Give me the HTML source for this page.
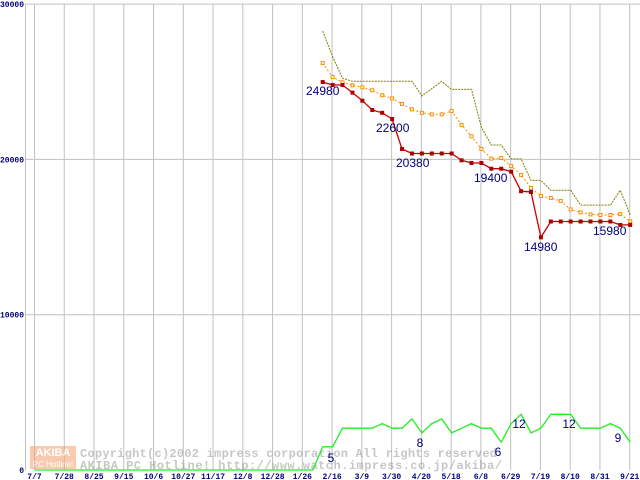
<!DOCTYPE html>
<html><head><meta charset="utf-8"><style>
html,body{margin:0;padding:0;background:#fff;}
svg{display:block;font-family:"Liberation Sans",sans-serif;}
</style></head><body>
<svg id="chart" width="640" height="480" viewBox="0 0 640 480" xmlns="http://www.w3.org/2000/svg">
<g id="grid"></g>
<g id="wm" opacity="0.55">
  <rect x="30" y="446" width="46" height="13" fill="#f4a070"/>
  <text x="53" y="456" font-size="11" fill="#fff" text-anchor="middle" font-weight="bold">AKIBA</text>
  <rect x="30" y="459" width="46" height="10" fill="#f4a070"/>
  <text x="53" y="467" font-size="8" fill="#fff" text-anchor="middle">PC Hotline!</text>
  <text x="80" y="457" font-size="12" fill="#999" font-family="Liberation Mono, monospace" font-weight="bold" textLength="417" lengthAdjust="spacing">Copyright(c)2002 impress corporation All rights reserved</text>
  <text x="80" y="469" font-size="12" fill="#999" font-family="Liberation Mono, monospace" font-weight="bold" textLength="422" lengthAdjust="spacing">AKIBA PC Hotline!  http://www.watch.impress.co.jp/akiba/</text>
</g>
<g id="series"></g>
<g id="labels"></g>
</svg>
<script>
const xTickLabels=["7/7","7/28","8/25","9/15","10/6","10/27","11/17","12/8","12/28","1/26","2/16","3/9","3/30","4/20","5/18","6/8","6/29","7/19","8/10","8/31","9/21"];
const yTicks=[0,10000,20000,30000];
const priceStartWeek=29;
const minPrice=[24980,24790,24790,24300,23780,23180,23000,22600,20670,20380,20380,20380,20380,20380,19940,19770,19770,19400,19400,19210,17950,17900,14980,16000,16000,16000,16000,16000,16000,16000,15780,15780];
const avgPrice=[26210,25300,24960,24770,24640,24450,24130,23930,23570,23220,23000,22900,22900,23120,22220,21490,20670,20050,20090,19570,19000,18160,17640,17510,17320,16780,16590,16460,16420,16420,16480,16010];
const maxPrice=[28270,26610,25220,25030,25030,25030,25030,25030,25030,25030,24080,24550,25030,24510,24510,24510,22070,20930,20930,20030,20030,18650,18650,18010,18010,18010,17060,17060,17060,17060,18010,16420];
const shopCount=[0,0,0,0,0,0,0,0,0,0,0,0,0,0,0,0,0,0,0,0,0,0,0,0,0,0,0,0,0,5,5,9,9,9,9,10,9,9,11,8,10,11,8,9,10,9,9,6,10,12,8,9,12,12,12,9,9,9,10,9,6];
const priceLabels=[["24980",0,306,95],["22600",7,376,132],["20380",9,396,167],["19400",17,474,182],["14980",22,524,251],["15980",31,593,235]];
const countLabels=[["5",331,462],["8",420,447],["6",498,456],["12",519,428],["12",569,428],["9",618,442]];

const NS="http://www.w3.org/2000/svg";
const X0=35, WK=9.92, Y0=470, YS=155.3/10000, CS=4.64;
function xw(w){return X0+w*WK;}
function yp(v){return Y0-v*YS;}
function yc(v){return Y0-v*CS;}
function mk(tag,attrs,parent){const e=document.createElementNS(NS,tag);for(const k in attrs)e.setAttribute(k,attrs[k]);parent.appendChild(e);return e;}
const grid=document.getElementById('grid'),ser=document.getElementById('series'),lab=document.getElementById('labels');

yTicks.forEach(v=>{
  if(v>0){const l=mk('line',{x1:25,x2:640,y1:yp(v),y2:yp(v),stroke:'#c0c0c0','stroke-width':1},grid);
  
  }
  const t=mk('text',{x:24,y:yp(v)+3,'font-size':8,fill:'#000080','text-anchor':'end','font-family':'Liberation Mono, monospace','font-weight':'bold'},grid);
  t.textContent=String(v);
  
  
});
const ax=mk('line',{x1:25.5,x2:25.5,y1:4,y2:470,stroke:'#c0c0c0','stroke-width':1},grid);


xTickLabels.forEach((s,i)=>{
  const x=xw(i*3)-0.5;
  const l=mk('line',{x1:x,x2:x,y1:4,y2:470,stroke:'#c0c0c0','stroke-width':1},grid);
  
  
  const t=mk('text',{x:x,y:479,'font-size':8,fill:'#000080','text-anchor':'middle','font-family':'Liberation Mono, monospace','font-weight':'bold'},grid);
  t.textContent=s;
  
  
});

function pts(arr,start,f){return arr.map((v,i)=>xw(start+i).toFixed(1)+','+f(v).toFixed(1)).join(' ');}
const g1=mk('polyline',{points:pts(shopCount,0,yc),fill:'none',stroke:'#22ee22','stroke-width':1.3},ser);


const p3=mk('polyline',{points:pts(maxPrice,priceStartWeek,yp),fill:'none',stroke:'#808000','stroke-width':1,'stroke-dasharray':'2,1'},ser);


const p2=mk('polyline',{points:pts(avgPrice,priceStartWeek,yp),fill:'none',stroke:'#ff8c00','stroke-width':1,'stroke-dasharray':'2,2'},ser);


avgPrice.forEach((v,i)=>{const r=mk('rect',{x:xw(priceStartWeek+i)-1.5,y:yp(v)-1.5,width:3,height:3,fill:'#fff',stroke:'#ff8c00','stroke-width':1},ser);
  
  });
const p1=mk('polyline',{points:pts(minPrice,priceStartWeek,yp),fill:'none',stroke:'#cc0000','stroke-width':1.3},ser);


minPrice.forEach((v,i)=>{const r=mk('rect',{x:xw(priceStartWeek+i)-2,y:yp(v)-2,width:4,height:4,fill:'#aa0000'},ser);
  
  });

priceLabels.forEach(a=>{const t=mk('text',{x:a[2],y:a[3],'font-size':12,fill:'#000080'},lab);
  t.textContent=a[0];
  
  });
countLabels.forEach(a=>{const t=mk('text',{x:a[1],y:a[2],'font-size':12,fill:'#000080','text-anchor':'middle'},lab);
  t.textContent=a[0];
  
  });
</script>
</body></html>
